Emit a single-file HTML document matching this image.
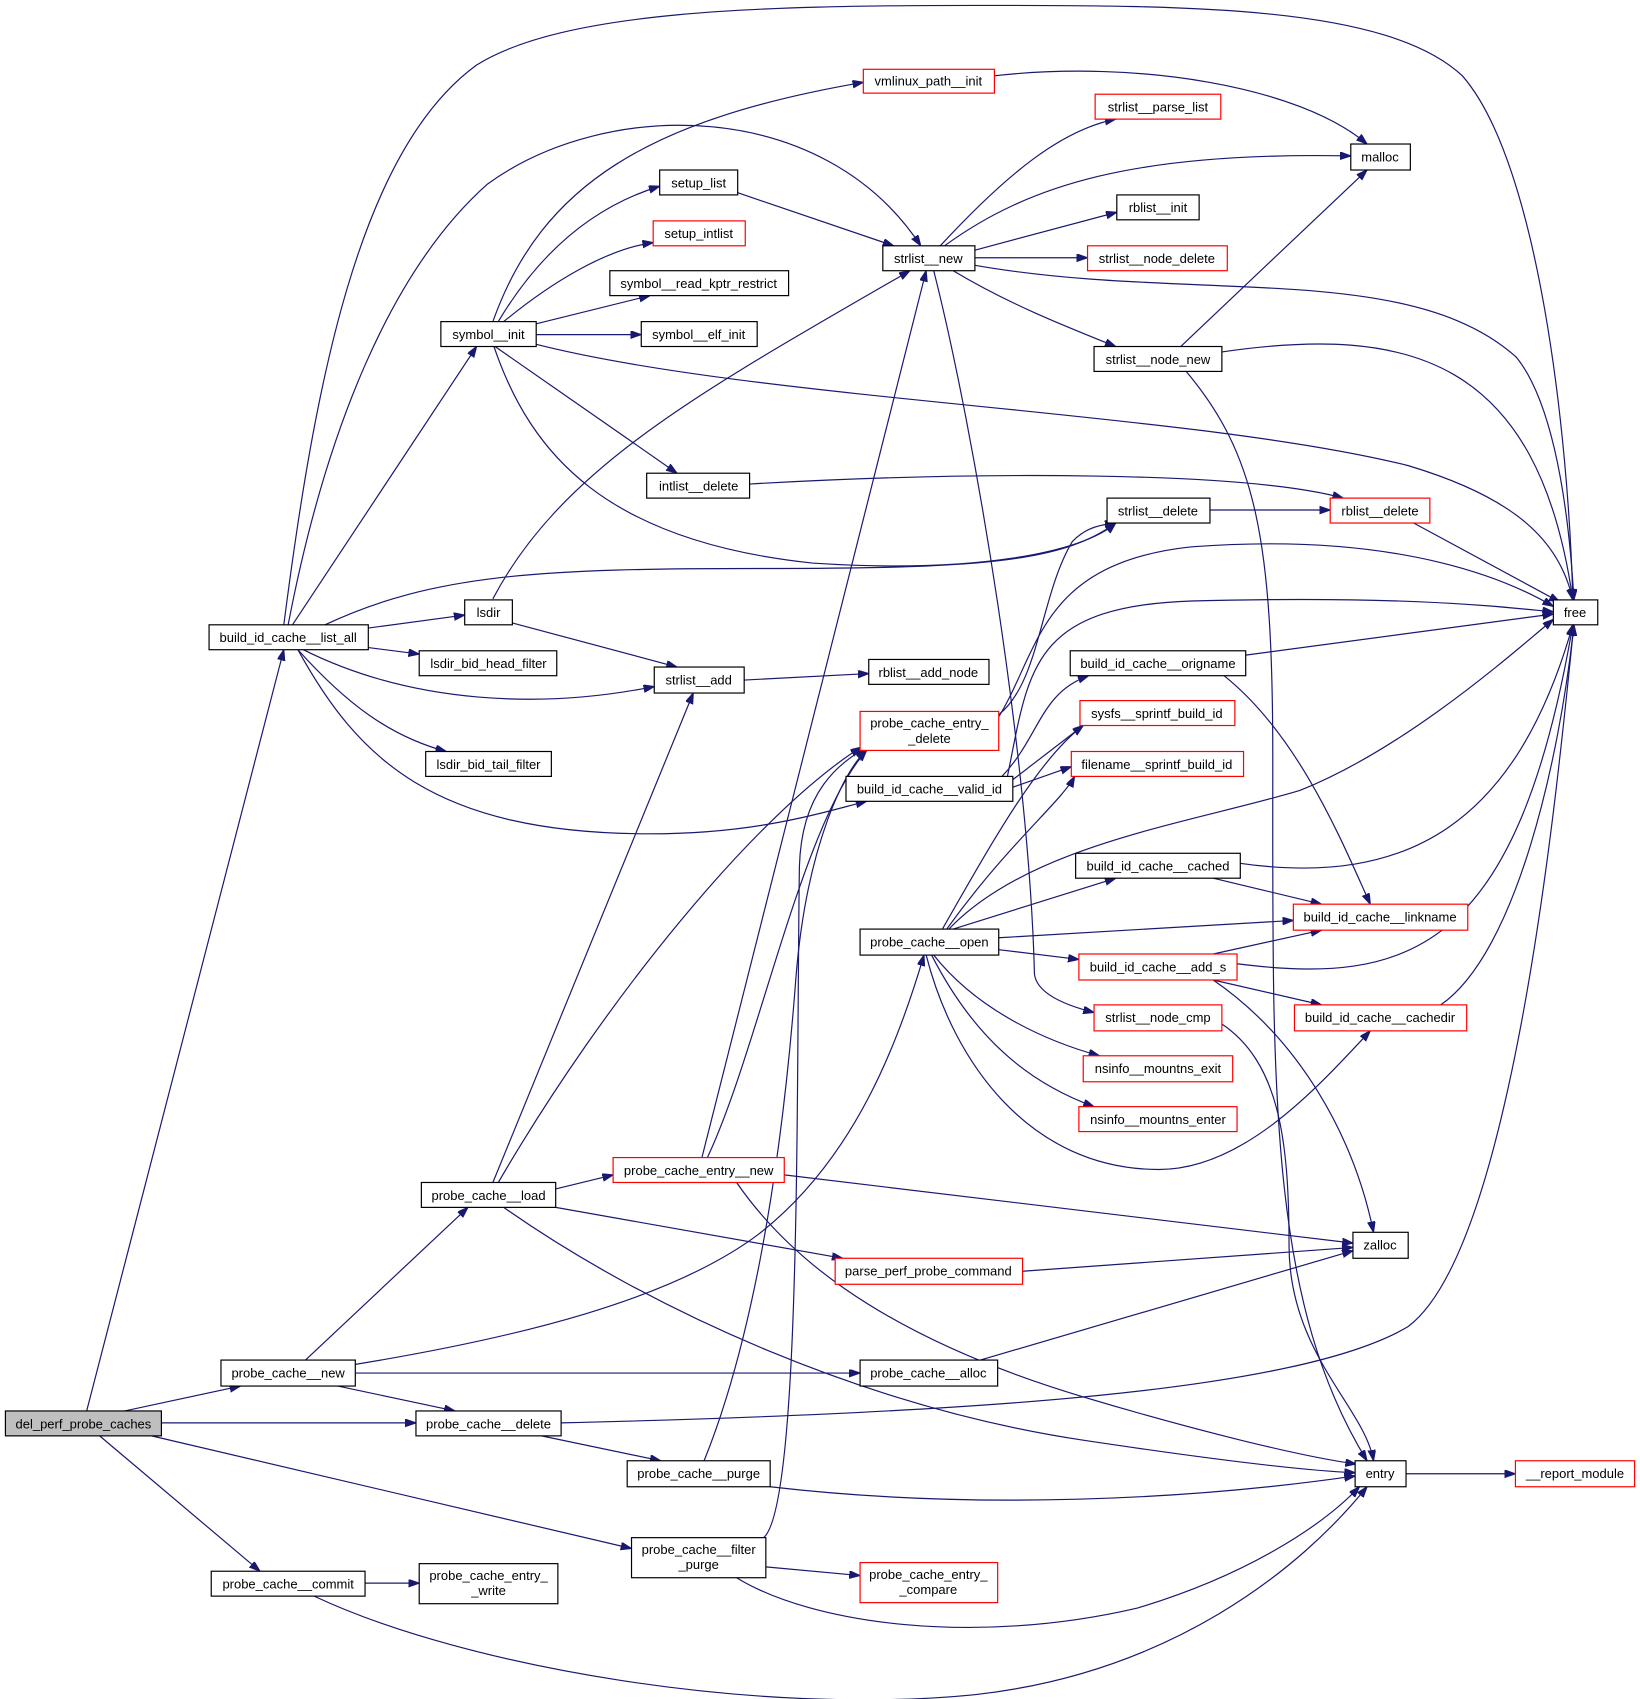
<!DOCTYPE html>
<html><head><meta charset="utf-8"><style>
html,body{margin:0;padding:0;background:#fff;}
svg{display:block}
text{font-family:"Liberation Sans",sans-serif;font-size:12px;fill:#000;text-anchor:middle}
.e{fill:none;stroke:#191970;stroke-width:1.1;marker-end:url(#a)}
.n{fill:#fff;stroke:#000;stroke-width:1.1}
.r{fill:#fff;stroke:#f00;stroke-width:1.1}
</style></head><body>
<svg width="1640" height="1699" viewBox="0 0 1514 1569" preserveAspectRatio="none" xmlns="http://www.w3.org/2000/svg">
<defs><marker id="a" markerUnits="userSpaceOnUse" markerWidth="11" markerHeight="8" refX="10" refY="3.5" orient="auto"><path d="M0,0 L10,3.5 L0,7 z" fill="#191970" stroke="#191970"/></marker></defs>
<g>
<path class="e" d="M80,1303 L262,600"/>
<path class="e" d="M115,1303 L222,1280"/>
<path class="e" d="M149,1314 L384,1314"/>
<path class="e" d="M140,1326 L583,1430"/>
<path class="e" d="M92,1326 L240,1451"/>
<path class="e" d="M337,1462 L387,1462"/>
<path class="e" d="M290,1474 C430,1540 700,1585 900,1565 C1080,1545 1200,1450 1262,1373"/>
<path class="e" d="M282,1256 L432,1115"/>
<path class="e" d="M328,1260 C480,1235 620,1200 700,1140 C790,1070 830,960 853,882"/>
<path class="e" d="M328,1268 L794,1268"/>
<path class="e" d="M312,1280 L420,1303"/>
<path class="e" d="M518,1314 C900,1305 1200,1285 1300,1225 C1400,1150 1440,700 1453,577"/>
<path class="e" d="M500,1326 L610,1349"/>
<path class="e" d="M711,1373 C900,1395 1100,1385 1251,1363"/>
<path class="e" d="M650,1349 C690,1250 720,1100 735,900 C745,780 780,710 800,693"/>
<path class="e" d="M707,1447 L794,1455"/>
<path class="e" d="M680,1457 C750,1500 900,1520 1050,1485 C1150,1455 1220,1410 1255,1373"/>
<path class="e" d="M705,1420 C740,1390 735,1000 738,800 C740,730 775,705 800,690"/>
<path class="e" d="M455,1092 L640,640"/>
<path class="e" d="M460,1092 C560,920 700,750 795,690"/>
<path class="e" d="M513,1098 L566,1085"/>
<path class="e" d="M513,1115 L778,1162"/>
<path class="e" d="M465,1115 C600,1210 800,1300 1000,1330 C1100,1345 1200,1358 1251,1360"/>
<path class="e" d="M724,1085 L1249,1148"/>
<path class="e" d="M648,1069 L855,250"/>
<path class="e" d="M653,1069 C700,970 740,760 800,693"/>
<path class="e" d="M680,1092 C720,1150 800,1230 1000,1290 C1100,1320 1200,1345 1252,1352"/>
<path class="e" d="M944,1174 L1249,1152"/>
<path class="e" d="M905,1256 L1249,1155"/>
<path class="e" d="M1298,1361 L1399,1361"/>
<path class="e" d="M270,577 L440,320"/>
<path class="e" d="M262,577 C290,360 330,140 440,60 C520,10 700,5 900,5 C1100,5 1280,5 1350,70 C1420,150 1448,400 1452,554"/>
<path class="e" d="M266,577 C300,400 360,250 450,170 C560,90 760,90 850,227"/>
<path class="e" d="M340,580 L429,568"/>
<path class="e" d="M340,598 L387,604"/>
<path class="e" d="M280,600 C380,650 500,655 604,634"/>
<path class="e" d="M275,600 C320,650 360,680 412,694"/>
<path class="e" d="M275,600 C330,700 400,770 600,770 C700,770 760,750 800,740"/>
<path class="e" d="M300,577 C400,530 500,525 700,525 C900,525 980,520 1030,483"/>
<path class="e" d="M455,553 C520,430 650,360 840,250"/>
<path class="e" d="M472,575 L625,616"/>
<path class="e" d="M687,628 L802,622"/>
<path class="e" d="M455,297 C500,170 600,110 797,76"/>
<path class="e" d="M460,297 C500,230 550,190 609,172"/>
<path class="e" d="M465,297 C510,260 560,230 603,224"/>
<path class="e" d="M495,299 L600,273"/>
<path class="e" d="M495,309 L592,309"/>
<path class="e" d="M457,320 L625,437"/>
<path class="e" d="M495,318 C700,370 1100,380 1300,430 C1400,460 1440,500 1452,554"/>
<path class="e" d="M456,320 C490,420 560,500 750,520 C900,530 1000,510 1030,483"/>
<path class="e" d="M681,178 L825,227"/>
<path class="e" d="M692,447 C900,435 1150,435 1240,460"/>
<path class="e" d="M918,70 C1050,55 1200,80 1262,133"/>
<path class="e" d="M868,227 C930,160 980,120 1030,110"/>
<path class="e" d="M872,227 C950,170 1050,140 1247,144"/>
<path class="e" d="M900,231 L1031,196"/>
<path class="e" d="M900,238 L1004,238"/>
<path class="e" d="M900,245 C1100,280 1300,240 1400,330 C1440,380 1450,500 1453,554"/>
<path class="e" d="M880,250 C930,280 980,300 1030,320"/>
<path class="e" d="M862,250 C900,400 950,700 955,900 C958,920 990,930 1010,935"/>
<path class="e" d="M1090,320 L1262,157"/>
<path class="e" d="M1128,325 C1300,300 1420,330 1452,554"/>
<path class="e" d="M1095,343 C1160,420 1175,500 1175,700 C1175,1000 1170,1200 1262,1349"/>
<path class="e" d="M1117,471 L1228,471"/>
<path class="e" d="M1305,483 L1440,556"/>
<path class="e" d="M922,660 C960,630 960,550 990,500 C1000,490 1010,485 1030,483"/>
<path class="e" d="M922,662 C960,600 960,520 1100,505 C1300,490 1400,540 1434,560"/>
<path class="e" d="M935,720 L1000,670"/>
<path class="e" d="M935,727 L989,708"/>
<path class="e" d="M930,717 C950,620 950,560 1100,555 C1300,550 1380,560 1434,565"/>
<path class="e" d="M925,717 C960,680 960,640 1005,624"/>
<path class="e" d="M1150,605 L1434,567"/>
<path class="e" d="M1130,624 C1200,680 1240,780 1265,835"/>
<path class="e" d="M870,858 C920,770 960,700 1000,670"/>
<path class="e" d="M874,858 C930,780 980,740 992,717"/>
<path class="e" d="M876,858 C950,780 1100,760 1200,730 C1300,690 1400,600 1434,572"/>
<path class="e" d="M880,858 L1030,811"/>
<path class="e" d="M922,866 L1194,850"/>
<path class="e" d="M922,877 L996,886"/>
<path class="e" d="M862,882 C900,930 960,960 1015,975"/>
<path class="e" d="M860,882 C900,960 950,1000 1010,1022"/>
<path class="e" d="M855,882 C880,980 950,1080 1070,1080 C1150,1080 1220,1000 1265,952"/>
<path class="e" d="M1143,797 C1300,820 1400,760 1452,577"/>
<path class="e" d="M1120,811 L1220,835"/>
<path class="e" d="M1120,881 L1220,859"/>
<path class="e" d="M1142,890 C1300,910 1400,880 1452,577"/>
<path class="e" d="M1120,905 L1220,928"/>
<path class="e" d="M1120,905 C1200,960 1250,1050 1268,1138"/>
<path class="e" d="M1330,928 C1400,880 1440,700 1453,577"/>
<path class="e" d="M1127,945 C1180,980 1190,1050 1190,1150 C1190,1250 1260,1300 1268,1349"/>
</g>
<g>
<rect x="5" y="1303" width="144" height="23" fill="#bfbfbf" stroke="#000" stroke-width="1.1"/><text x="77" y="1319">del_perf_probe_caches</text>
<rect class="n" x="193" y="577" width="147" height="23"/><text x="266" y="593">build_id_cache__list_all</text>
<rect class="n" x="204" y="1256" width="124" height="24"/><text x="266" y="1272">probe_cache__new</text>
<rect class="n" x="384" y="1303" width="134" height="23"/><text x="451" y="1319">probe_cache__delete</text>
<rect class="n" x="195" y="1451" width="142" height="23"/><text x="266" y="1467">probe_cache__commit</text>
<rect class="n" x="387" y="1444" width="128" height="37"/><text x="451" y="1459">probe_cache_entry_</text><text x="451" y="1473">_write</text>
<rect class="n" x="583" y="1420" width="124" height="37"/><text x="645" y="1435">probe_cache__filter</text><text x="645" y="1449">_purge</text>
<rect class="n" x="579" y="1349" width="132" height="24"/><text x="645" y="1365">probe_cache__purge</text>
<rect class="n" x="389" y="1092" width="124" height="23"/><text x="451" y="1108">probe_cache__load</text>
<rect class="r" x="566" y="1069" width="158" height="23"/><text x="645" y="1085">probe_cache_entry__new</text>
<rect class="r" x="771" y="1162" width="173" height="24"/><text x="857" y="1178">parse_perf_probe_command</text>
<rect class="n" x="794" y="1256" width="127" height="24"/><text x="857" y="1272">probe_cache__alloc</text>
<rect class="r" x="794" y="1443" width="127" height="37"/><text x="857" y="1458">probe_cache_entry_</text><text x="857" y="1472">_compare</text>
<rect class="n" x="1251" y="1349" width="47" height="24"/><text x="1274" y="1365">entry</text>
<rect class="r" x="1399" y="1349" width="110" height="24"/><text x="1454" y="1365">__report_module</text>
<rect class="n" x="1249" y="1138" width="51" height="24"/><text x="1274" y="1154">zalloc</text>
<rect class="n" x="794" y="858" width="128" height="24"/><text x="858" y="874">probe_cache__open</text>
<rect class="n" x="781" y="717" width="154" height="23"/><text x="858" y="733">build_id_cache__valid_id</text>
<rect class="r" x="794" y="657" width="128" height="36"/><text x="858" y="672">probe_cache_entry_</text><text x="858" y="686">_delete</text>
<rect class="n" x="604" y="616" width="83" height="24"/><text x="645" y="632">strlist__add</text>
<rect class="n" x="802" y="609" width="111" height="23"/><text x="857" y="625">rblist__add_node</text>
<rect class="n" x="429" y="554" width="44" height="23"/><text x="451" y="570">lsdir</text>
<rect class="n" x="387" y="601" width="127" height="23"/><text x="451" y="617">lsdir_bid_head_filter</text>
<rect class="n" x="393" y="694" width="116" height="23"/><text x="451" y="710">lsdir_bid_tail_filter</text>
<rect class="n" x="407" y="297" width="88" height="23"/><text x="451" y="313">symbol__init</text>
<rect class="n" x="609" y="157" width="72" height="23"/><text x="645" y="173">setup_list</text>
<rect class="r" x="603" y="204" width="85" height="23"/><text x="645" y="220">setup_intlist</text>
<rect class="n" x="563" y="250" width="165" height="23"/><text x="645" y="266">symbol__read_kptr_restrict</text>
<rect class="n" x="592" y="297" width="107" height="23"/><text x="645" y="313">symbol__elf_init</text>
<rect class="n" x="597" y="437" width="95" height="23"/><text x="645" y="453">intlist__delete</text>
<rect class="r" x="797" y="64" width="121" height="22"/><text x="857" y="79">vmlinux_path__init</text>
<rect class="n" x="815" y="227" width="85" height="23"/><text x="857" y="243">strlist__new</text>
<rect class="r" x="1011" y="87" width="116" height="23"/><text x="1069" y="103">strlist__parse_list</text>
<rect class="n" x="1247" y="133" width="55" height="24"/><text x="1274" y="149">malloc</text>
<rect class="n" x="1031" y="180" width="76" height="23"/><text x="1069" y="196">rblist__init</text>
<rect class="r" x="1004" y="227" width="129" height="23"/><text x="1068" y="243">strlist__node_delete</text>
<rect class="n" x="1010" y="320" width="118" height="23"/><text x="1069" y="336">strlist__node_new</text>
<rect class="n" x="1022" y="460" width="95" height="23"/><text x="1069" y="476">strlist__delete</text>
<rect class="r" x="1228" y="460" width="92" height="23"/><text x="1274" y="476">rblist__delete</text>
<rect class="n" x="1434" y="554" width="41" height="23"/><text x="1454" y="570">free</text>
<rect class="n" x="988" y="601" width="162" height="23"/><text x="1069" y="617">build_id_cache__origname</text>
<rect class="r" x="997" y="647" width="143" height="23"/><text x="1068" y="663">sysfs__sprintf_build_id</text>
<rect class="r" x="989" y="694" width="159" height="23"/><text x="1068" y="710">filename__sprintf_build_id</text>
<rect class="n" x="993" y="788" width="152" height="23"/><text x="1069" y="804">build_id_cache__cached</text>
<rect class="r" x="1194" y="835" width="161" height="24"/><text x="1274" y="851">build_id_cache__linkname</text>
<rect class="r" x="996" y="881" width="146" height="24"/><text x="1069" y="897">build_id_cache__add_s</text>
<rect class="r" x="1010" y="928" width="118" height="24"/><text x="1069" y="944">strlist__node_cmp</text>
<rect class="r" x="1195" y="928" width="159" height="24"/><text x="1274" y="944">build_id_cache__cachedir</text>
<rect class="r" x="1000" y="975" width="138" height="24"/><text x="1069" y="991">nsinfo__mountns_exit</text>
<rect class="r" x="996" y="1022" width="146" height="23"/><text x="1069" y="1038">nsinfo__mountns_enter</text>
</g>
</svg>
</body></html>
